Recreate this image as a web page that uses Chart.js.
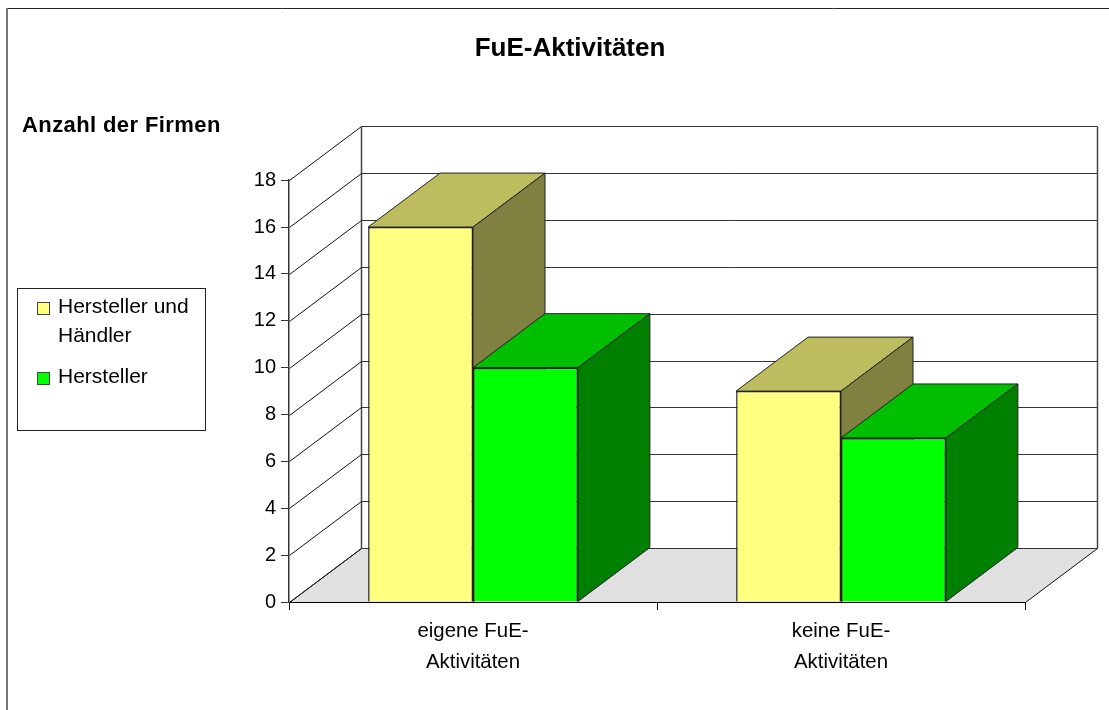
<!DOCTYPE html>
<html>
<head>
<meta charset="utf-8">
<title>FuE-Aktivitäten</title>
<script src="https://cdn.jsdelivr.net/npm/chart.js@4/dist/chart.umd.min.js"></script>
<style>
body { margin: 0; background: #fff; }
canvas { display: block; }
</style>
</head>
<body>
<canvas id="chart" width="1109" height="710"></canvas>
<script>
var categories = [["eigene FuE-", "Aktivitäten"], ["keine FuE-", "Aktivitäten"]];
var seriesNames = [["Hersteller und", "Händler"], ["Hersteller"]];
var herstellerHaendler = [16, 9];
var hersteller = [10, 7];
var chartTitle = "FuE-Aktivitäten";
var axisTitle = "Anzahl der Firmen";

var frontColors = ["#ffff80", "#00ff00"];
var topColors = ["#bdbd60", "#00bf00"];
var sideColors = ["#808040", "#008000"];
var FONT = "'Liberation Sans', Arial, sans-serif";

// Versatz der 3D-Tiefe
var depthX = 72;
var depthY = -54;

function poly(ctx, pts, fill, stroke) {
    ctx.beginPath();
    ctx.moveTo(pts[0][0], pts[0][1]);
    for (var i = 1; i < pts.length; i++) {
        ctx.lineTo(pts[i][0], pts[i][1]);
    }
    ctx.closePath();
    if (fill) {
        ctx.fillStyle = fill;
        ctx.fill();
    }
    if (stroke) {
        ctx.strokeStyle = stroke;
        ctx.lineWidth = 1;
        ctx.stroke();
    }
}

function line(ctx, x1, y1, x2, y2, color, width) {
    ctx.beginPath();
    ctx.moveTo(x1, y1);
    ctx.lineTo(x2, y2);
    ctx.strokeStyle = color;
    ctx.lineWidth = width || 1;
    ctx.stroke();
}

var walls = {
    id: "walls",
    beforeDraw: function (chart) {
        var ctx = chart.ctx;
        var area = chart.chartArea;
        var y = chart.scales.y;
        ctx.save();

        // Rahmen des Diagramms
        line(ctx, 7, 8.5, 1109, 8.5, "#222");
        line(ctx, 7, 8, 7, 710, "#777", 2);

        // Boden
        var l = area.left + 0.5;
        var r = area.right + 0.5;
        var b = area.bottom + 0.5;
        poly(ctx, [[l, b], [r, b], [r + depthX, b + depthY], [l + depthX, b + depthY]], "#e0e0e0", "#111");

        // Rückwand und Seitenwand
        line(ctx, l + depthX, y.getPixelForValue(18) + depthY + 0.5, l + depthX, b + depthY, "#444", 1.5);
        line(ctx, r + depthX, y.getPixelForValue(18) + depthY + 0.5, r + depthX, b + depthY, "#444", 1.5);
        y.ticks.forEach(function (t) {
            var py = Math.round(y.getPixelForValue(t.value)) + 0.5;
            line(ctx, l, py, l + depthX, py + depthY, "#111");
            line(ctx, l + depthX, py + depthY, r + depthX, py + depthY, "#333");
        });

        // Achsentitel
        ctx.fillStyle = "#000";
        ctx.textBaseline = "middle";
        ctx.textAlign = "left";
        ctx.font = "bold 22px " + FONT;
        ctx.letterSpacing = "0.4px";
        ctx.fillText(axisTitle, 22, 126);
        ctx.letterSpacing = "0px";

        // Legende
        ctx.fillStyle = "#fff";
        ctx.fillRect(17.5, 288.5, 188, 142);
        ctx.strokeStyle = "#222";
        ctx.lineWidth = 1;
        ctx.strokeRect(17.5, 288.5, 188, 142);
        ctx.font = "21px " + FONT;
        var rowY = 307;
        seriesNames.forEach(function (lines, i) {
            ctx.fillStyle = frontColors[i];
            ctx.fillRect(37.5, rowY - 4.5, 12, 12);
            ctx.strokeStyle = "#444";
            ctx.strokeRect(37.5, rowY - 4.5, 12, 12);
            ctx.fillStyle = "#000";
            lines.forEach(function (txt) {
                ctx.fillText(txt, 58, rowY);
                rowY += 29;
            });
            rowY += 12;
        });
        ctx.restore();
    },
    beforeDatasetsDraw: function (chart) {
        // Ober- und Seitenflächen der Säulen
        var ctx = chart.ctx;
        ctx.save();
        chart.data.datasets.forEach(function (ds, d) {
            chart.getDatasetMeta(d).data.forEach(function (bar) {
                var x1 = bar.x - bar.width / 2;
                var x2 = bar.x + bar.width / 2;
                poly(ctx, [[x1, bar.y], [x2, bar.y], [x2 + depthX, bar.y + depthY], [x1 + depthX, bar.y + depthY]], topColors[d], "#222");
                poly(ctx, [[x2, bar.y], [x2 + depthX, bar.y + depthY], [x2 + depthX, bar.base + depthY], [x2, bar.base]], sideColors[d], "#222");
            });
        });
        ctx.restore();
    }
};

var ctx = document.getElementById("chart").getContext("2d");
var chart = new Chart(ctx, {
    type: "bar",
    data: {
        labels: categories,
        datasets: [
            {
                label: seriesNames[0].join(" "),
                data: herstellerHaendler,
                backgroundColor: frontColors[0],
                borderColor: "#222",
                borderWidth: 1.5
            },
            {
                label: seriesNames[1].join(" "),
                data: hersteller,
                backgroundColor: frontColors[1],
                borderColor: "#222",
                borderWidth: 1.5
            }
        ]
    },
    plugins: [walls],
    options: {
        responsive: false,
        animation: false,
        layout: { padding: { left: 115, right: 84, top: 0, bottom: 0 } },
        datasets: { bar: { categoryPercentage: 0.57, barPercentage: 1 } },
        plugins: {
            legend: { display: false },
            tooltip: { enabled: false },
            title: {
                display: true,
                text: chartTitle,
                color: "#000",
                font: { family: FONT, size: 26, weight: "bold" },
                padding: { top: 33, bottom: 116 }
            }
        },
        scales: {
            x: {
                afterFit: function (scale) { scale.height = 108; },
                border: { color: "#000", width: 1 },
                grid: { drawOnChartArea: false, color: "#111", tickLength: 8 },
                ticks: {
                    color: "#000",
                    padding: 6,
                    maxRotation: 0,
                    font: { family: FONT, size: 20.4, lineHeight: 1.5 }
                }
            },
            y: {
                min: 0,
                max: 18,
                afterFit: function (scale) { scale.width = 174; },
                border: { color: "#333", width: 1.5 },
                grid: { drawOnChartArea: false, color: "#333", tickLength: 8 },
                ticks: {
                    stepSize: 2,
                    color: "#000",
                    padding: 5,
                    font: { family: FONT, size: 20 }
                }
            }
        }
    }
});
</script>
</body>
</html>
